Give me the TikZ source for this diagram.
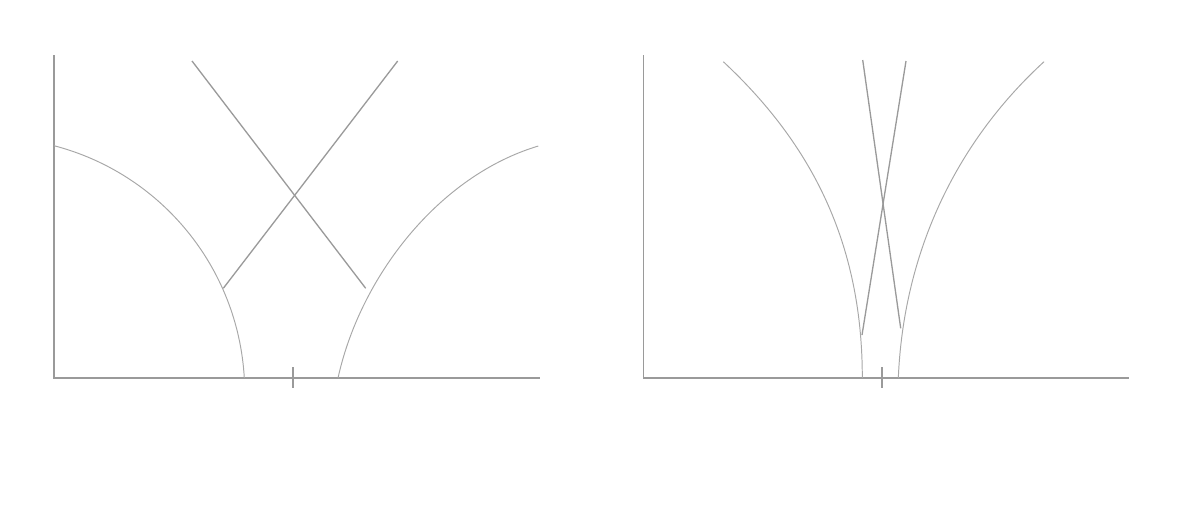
\documentclass[tikz,border=0pt]{standalone}
\usepackage{tikz}
\usetikzlibrary{calc}

\definecolor{axisgray}{HTML}{9A9A9A}
\definecolor{curvegray}{HTML}{A8A8A8}

\begin{document}
\begin{tikzpicture}[x=0.02cm,y=-0.02cm,
    axisline/.style={draw=axisgray,line width=0.85pt},
    arcline/.style={draw=curvegray,line width=0.55pt},
    crossline/.style={draw=axisgray,line width=0.75pt}]
      \useasboundingbox (0,0) rectangle (1192,508);

      % left panel
      \coordinate (o1) at (54,378);
      \coordinate (y1) at (54,55);
      \coordinate (x1) at (540,378);
      \coordinate (t1a) at (293,367);
      \coordinate (t1b) at (293,388);
      \coordinate (l1top) at (54,145.7);
      \coordinate (l1bot) at (244.3,378);
      \coordinate (r1bot) at (338,378);
      \coordinate (r1top) at (538.3,146);
      \coordinate (a1) at (192,61);
      \coordinate (a2) at (365.7,288.3);
      \coordinate (b1) at (397.7,61);
      \coordinate (b2) at (223.3,288.3);

      \draw[axisline] (y1) -- (o1) -- (x1);
      \draw[axisline] (t1a) -- (t1b);
      \draw[arcline] (l1top) .. controls (161.1,173.6) and (238,267.4) .. (l1bot);
      \draw[arcline] (r1bot) .. controls (360.4,276.4) and (438.7,175.8) .. (r1top);
      \draw[crossline] (a1) -- (a2);
      \draw[crossline] (b1) -- (b2);

      % right panel
      \coordinate (o2) at (643.3,378);
      \coordinate (y2) at (643.3,55);
      \coordinate (x2) at (1129.3,378);
      \coordinate (t2a) at (882,367);
      \coordinate (t2b) at (882,388);
      \coordinate (l2top) at (723.3,61.7);
      \coordinate (l2bot) at (862.3,378);
      \coordinate (r2bot) at (898.3,378);
      \coordinate (r2top) at (1044,61.7);
      \coordinate (c1) at (862.7,60);
      \coordinate (c2) at (900.7,328.3);
      \coordinate (d1) at (906,61);
      \coordinate (d2) at (862,335);

      \draw[axisline] (y2) -- (o2) -- (x2);
      \draw[axisline] (t2a) -- (t2b);
      \draw[arcline] (l2top) .. controls (817.6,149.6) and (862.3,250.8) .. (l2bot);
      \draw[arcline] (r2bot) .. controls (903.5,255) and (954,144.2) .. (r2top);
      \draw[crossline] (c1) -- (c2);
      \draw[crossline] (d1) -- (d2);
\end{tikzpicture}
\end{document}
